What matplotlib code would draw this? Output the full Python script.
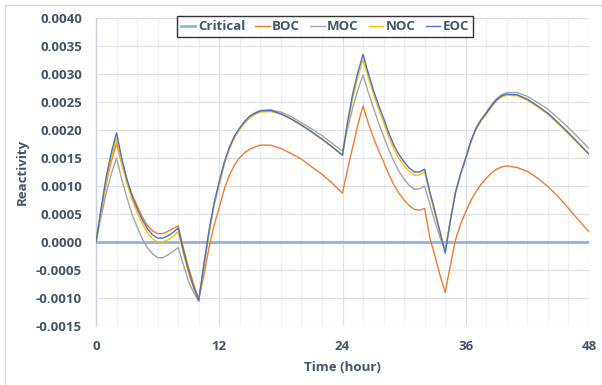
import matplotlib
matplotlib.use("Agg")
import matplotlib.pyplot as plt
from matplotlib.patches import Rectangle
from matplotlib.ticker import MultipleLocator

plt.rcParams['font.family'] = ['Open Sans', 'DejaVu Sans']

time_h = [0, 0.5, 1, 1.5, 2, 2.5, 3, 3.5, 4, 4.5, 5, 5.5, 6, 6.5, 7, 7.5, 8, 8.5, 9, 9.5,
          10, 10.5, 11, 11.5, 12, 12.5, 13, 13.5, 14, 14.5, 15, 15.5, 16,
          17, 18, 19, 20, 21, 22, 23, 24,
          24.5, 25, 25.5, 26, 26.5, 27, 27.5, 28, 28.5, 29, 29.5, 30, 30.5, 31, 31.5, 32,
          32.5, 33, 33.5, 34, 34.5, 35, 35.5, 36, 36.5, 37, 37.5, 38, 38.5, 39, 39.5, 40,
          41, 42, 43, 44, 45, 46, 47, 48]

critical = [0.0] * len(time_h)

boc = [0, 0.00055, 0.00105, 0.00145, 0.00176, 0.0014, 0.0011, 0.00085, 0.00065, 0.00045,
       0.0003, 0.0002, 0.00015, 0.00015, 0.00019, 0.00024, 0.00029, -0.0001, -0.00045, -0.00075,
       -0.00102, -0.0006, -0.0001, 0.0003, 0.00062, 0.00095, 0.0012, 0.00138, 0.00151, 0.0016,
       0.00166, 0.0017, 0.00173,
       0.00173, 0.00167, 0.00158, 0.00148, 0.00134, 0.00121, 0.00105, 0.00087,
       0.0013, 0.0017, 0.0021, 0.00243, 0.00213, 0.00187, 0.00164, 0.00143, 0.00121, 0.00102,
       0.00087, 0.00075, 0.00065, 0.00058, 0.00057, 0.0006,
       0.00008, -0.00025, -0.0006, -0.0009, -0.00042, 0.00004, 0.00032, 0.00054, 0.00074,
       0.0009, 0.00103, 0.00114, 0.00123, 0.0013, 0.00134, 0.00136,
       0.00133, 0.00126, 0.00114, 0.00099, 0.00081, 0.0006, 0.00039, 0.00018]

moc = [0, 0.00045, 0.00088, 0.00122, 0.0015, 0.00112, 0.0008, 0.0005, 0.00027, 0.00006,
       -0.0001, -0.00021, -0.00028, -0.00028, -0.00023, -0.00017, -0.0001, -0.0004, -0.0007, -0.0009,
       -0.00105, -0.00045, 0.00015, 0.00066, 0.00103, 0.0014, 0.00167, 0.00187, 0.00202, 0.00215,
       0.00225, 0.00231, 0.00235,
       0.00236, 0.00232, 0.00224, 0.00213, 0.00202, 0.0019, 0.00176, 0.00162,
       0.00203, 0.0024, 0.00272, 0.00298, 0.00268, 0.0024, 0.00213, 0.00189, 0.00165, 0.00144,
       0.00126, 0.00112, 0.00101, 0.00094, 0.00095, 0.001,
       0.00068, 0.00036, 0.00008, -0.00015, 0.00039, 0.00089, 0.00122, 0.0015, 0.0018,
       0.00204, 0.00219, 0.00232, 0.00245, 0.00256, 0.00263, 0.00267,
       0.00267, 0.0026, 0.00249, 0.00237, 0.00221, 0.00204, 0.00186, 0.00167]

noc = [0, 0.00056, 0.0011, 0.00152, 0.00185, 0.00141, 0.00105, 0.00076, 0.00053, 0.00033,
       0.00017, 0.00006, 0.0, 0.0, 0.00004, 0.0001, 0.00019, -0.0002, -0.00055, -0.00082,
       -0.00105, -0.00042, 0.00017, 0.00067, 0.00104, 0.0014, 0.00167, 0.00187, 0.00201, 0.00213,
       0.00222, 0.00228, 0.00232,
       0.00233, 0.00228, 0.00219, 0.00208, 0.00196, 0.00183, 0.00169, 0.00155,
       0.0021, 0.00258, 0.00295, 0.00325, 0.00294, 0.00265, 0.00238, 0.00214, 0.00188, 0.00166,
       0.00149, 0.00136, 0.00126, 0.00119, 0.0012, 0.00125,
       0.00086, 0.0005, 0.00016, -0.00015, 0.00038, 0.00087, 0.0012, 0.00148, 0.00178,
       0.00201, 0.00216, 0.00228, 0.00241, 0.00252, 0.00259, 0.00262,
       0.00261, 0.00253, 0.00241, 0.00228, 0.00211, 0.00193, 0.00175, 0.00156]

eoc = [0, 0.0006, 0.00117, 0.0016, 0.00195, 0.0015, 0.00113, 0.00083, 0.0006, 0.0004,
       0.00024, 0.00013, 0.00007, 0.00007, 0.00011, 0.00017, 0.00025, -0.00015, -0.0005, -0.0008,
       -0.00105, -0.0004, 0.0002, 0.0007, 0.00108, 0.00143, 0.0017, 0.0019, 0.00204, 0.00216,
       0.00225, 0.0023, 0.00234,
       0.00235, 0.00229, 0.0022, 0.00209, 0.00197, 0.00184, 0.0017, 0.00155,
       0.00215, 0.00265, 0.00303, 0.00335, 0.00302, 0.00272, 0.00245, 0.00221, 0.00195, 0.00173,
       0.00156, 0.00143, 0.00132, 0.00125, 0.00125, 0.0013,
       0.0009, 0.00055, 0.00018, -0.0002, 0.00038, 0.00088, 0.00122, 0.0015, 0.0018,
       0.00203, 0.00218, 0.0023, 0.00243, 0.00254, 0.00261, 0.00264,
       0.00263, 0.00255, 0.00243, 0.0023, 0.00213, 0.00195, 0.00176, 0.00157]

x_ticks = [0, 12, 24, 36, 48]
y_ticks = [-0.0015, -0.0010, -0.0005, 0.0, 0.0005, 0.0010, 0.0015, 0.0020, 0.0025,
           0.0030, 0.0035, 0.0040]

text_color = '#44546A'
fs = 9.5

fig = plt.figure(figsize=(6.02, 3.85), dpi=100)
fig.patches.append(Rectangle((4.5 / 602, -0.05), 1.2, 1.05 - 4.5 / 385,
                             transform=fig.transFigure, fill=False,
                             edgecolor='#D9D9D9', linewidth=1.0))
ax = fig.add_axes([96 / 602, 1 - 326 / 385, 493 / 602, 308 / 385])

ax.plot(time_h, critical, color='#8DB4E2', lw=2.0, label='Critical', zorder=3)
ax.plot(time_h, boc, color='#ED7D31', lw=1.0, label='BOC', zorder=4)
ax.plot(time_h, moc, color='#A5A5A5', lw=1.0, label='MOC', zorder=4)
ax.plot(time_h, noc, color='#FFC000', lw=1.0, label='NOC', zorder=4)
ax.plot(time_h, eoc, color='#4472C4', lw=1.0, label='EOC', zorder=5)

ax.set_xlim(0, 48)
ax.set_ylim(-0.0015, 0.0040)
ax.set_xticks(x_ticks)
ax.set_yticks(y_ticks)
ax.set_yticklabels([f'{v:.4f}' for v in y_ticks])
ax.xaxis.set_minor_locator(MultipleLocator(2))

ax.grid(True, which='major', axis='both', color='#DCE1E8', lw=0.9, zorder=0)
ax.grid(True, which='minor', axis='x', color='#EEF0F4', lw=0.9, zorder=0)
ax.set_axisbelow(True)
for s in ['top', 'right', 'bottom']:
    ax.spines[s].set_visible(False)
ax.spines['left'].set_color('#C9D2DE')
ax.spines['left'].set_linewidth(1.0)

ax.tick_params(axis='both', which='both', length=0, labelsize=fs,
               labelcolor=text_color)
ax.tick_params(axis='x', pad=10)
ax.tick_params(axis='y', pad=10)
for lab in ax.get_xticklabels() + ax.get_yticklabels():
    lab.set_fontweight('bold')

ax.set_xlabel('Time (hour)', fontsize=fs, fontweight='bold', color=text_color,
              labelpad=6)
ax.set_ylabel('Reactivity', fontsize=fs, fontweight='bold', color=text_color,
              labelpad=5)

leg = ax.legend(loc='center', bbox_to_anchor=(0.4645, 0.972), ncol=5,
                frameon=True, fancybox=False, fontsize=fs, handlelength=1.1,
                handletextpad=0.2, columnspacing=0.75, borderpad=0.3,
                borderaxespad=0)
leg.get_frame().set_edgecolor('black')
leg.get_frame().set_linewidth(1.0)
for t in leg.get_texts():
    t.set_color(text_color)
    t.set_fontweight('bold')

fig.savefig('out.png', dpi=100)
